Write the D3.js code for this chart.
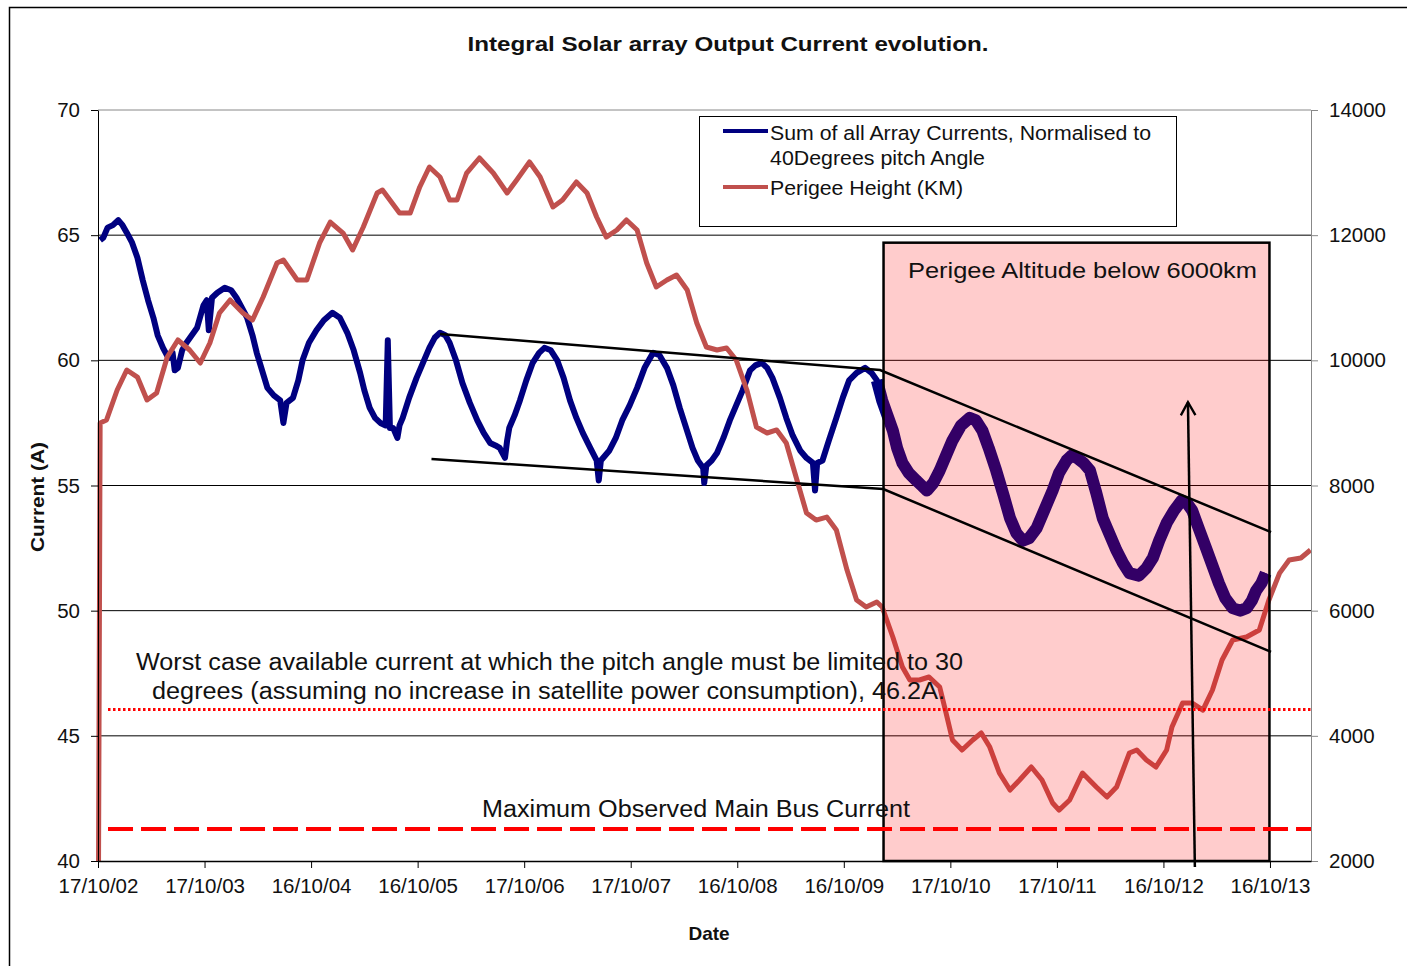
<!DOCTYPE html>
<html>
<head>
<meta charset="utf-8">
<script src="https://cdn.jsdelivr.net/npm/d3@7"></script>
<style>
  body { margin: 0; background: #fff; }
  text { font-family: "Liberation Sans", Arial, sans-serif; fill: #111; }
</style>
</head>
<body>
<svg width="1407" height="966"></svg>
<script>
// tick labels of the date axis (one per year step)
var dateLabels = ["17/10/02", "17/10/03", "16/10/04", "16/10/05", "17/10/06", "17/10/07",
  "16/10/08", "16/10/09", "17/10/10", "17/10/11", "16/10/12", "16/10/13"];
var leftTicks = [40, 45, 50, 55, 60, 65, 70];
var rightTicks = [2000, 4000, 6000, 8000, 10000, 12000, 14000];

// current series: [years since 17/10/02, amps]
var currentData = [
  [0.02, 64.8], [0.05, 64.9], [0.09, 65.3], [0.14, 65.4], [0.19, 65.6], [0.23, 65.4],
  [0.27, 65.1], [0.32, 64.7], [0.37, 64.1], [0.42, 63.2], [0.47, 62.4],
  [0.52, 61.7], [0.56, 61.0], [0.61, 60.5], [0.66, 60.1], [0.70, 60.3], [0.72, 59.6],
  [0.75, 59.7], [0.79, 60.4], [0.83, 60.7],
  [0.88, 61.0], [0.93, 61.3], [0.99, 62.2], [1.02, 62.4], [1.04, 61.2], [1.07, 62.5], [1.12, 62.7],
  [1.19, 62.9], [1.25, 62.8], [1.30, 62.5], [1.35, 62.1], [1.40, 61.7], [1.45, 61.0],
  [1.49, 60.3], [1.54, 59.6], [1.59, 58.9], [1.65, 58.6], [1.71, 58.4],
  [1.74, 57.5], [1.77, 58.3], [1.80, 58.4], [1.83, 58.5], [1.88, 59.2], [1.92, 60.0],
  [1.98, 60.7], [2.05, 61.2], [2.12, 61.6], [2.20, 61.9],
  [2.27, 61.7], [2.34, 61.1], [2.40, 60.4], [2.46, 59.5], [2.50, 58.8], [2.55, 58.1],
  [2.60, 57.7], [2.65, 57.5], [2.70, 57.4],
  [2.72, 60.8], [2.74, 57.3], [2.77, 57.3], [2.81, 56.9], [2.83, 57.4], [2.86, 57.7],
  [2.92, 58.5], [2.99, 59.3], [3.05, 59.9], [3.11, 60.5], [3.16, 60.9], [3.21, 61.1],
  [3.26, 61.0], [3.30, 60.7], [3.36, 60.0], [3.42, 59.1], [3.49, 58.3], [3.56, 57.6],
  [3.62, 57.1], [3.68, 56.7], [3.73, 56.6], [3.77, 56.5], [3.82, 56.1], [3.84, 56.8],
  [3.86, 57.3], [3.91, 57.8], [3.96, 58.4], [4.02, 59.2],
  [4.08, 59.9], [4.14, 60.3], [4.19, 60.5], [4.25, 60.4], [4.31, 60.0], [4.37, 59.3],
  [4.43, 58.4], [4.49, 57.7], [4.55, 57.1], [4.62, 56.5], [4.68, 56.0],
  [4.70, 55.2], [4.72, 56.0], [4.76, 56.2], [4.80, 56.4], [4.86, 56.9], [4.92, 57.6],
  [4.99, 58.2], [5.06, 58.9], [5.13, 59.7], [5.21, 60.3], [5.27, 60.2],
  [5.34, 59.7], [5.40, 59.0], [5.46, 58.1], [5.52, 57.3], [5.58, 56.5], [5.63, 56.0],
  [5.68, 55.7], [5.69, 55.1], [5.71, 55.8],
  [5.76, 56.0], [5.81, 56.3], [5.87, 56.9], [5.93, 57.6], [5.99, 58.2], [6.05, 58.8],
  [6.12, 59.6], [6.17, 59.8], [6.23, 59.9], [6.28, 59.7], [6.33, 59.3], [6.40, 58.5],
  [6.46, 57.7], [6.52, 57.0], [6.59, 56.4], [6.65, 56.1], [6.71, 55.9], [6.73, 54.8],
  [6.75, 55.9], [6.80, 56.0], [6.86, 56.8],
  [6.93, 57.7], [6.99, 58.5], [7.05, 59.2], [7.12, 59.5], [7.20, 59.7], [7.26, 59.5],
  [7.31, 59.2], [7.36, 58.4], [7.41, 57.8], [7.46, 57.2], [7.50, 56.5],
  [7.55, 55.9], [7.61, 55.5], [7.68, 55.2], [7.73, 55.0], [7.78, 54.8], [7.84, 55.1],
  [7.90, 55.6], [7.96, 56.2], [8.02, 56.8], [8.10, 57.4], [8.18, 57.7], [8.24, 57.6],
  [8.30, 57.2], [8.36, 56.5], [8.43, 55.6], [8.50, 54.6], [8.56, 53.7], [8.62, 53.1],
  [8.68, 52.8], [8.74, 52.9], [8.81, 53.3], [8.88, 54.0], [8.96, 54.8], [9.02, 55.5],
  [9.09, 56.0], [9.14, 56.2], [9.19, 56.1], [9.25, 55.9], [9.31, 55.6], [9.37, 54.7],
  [9.43, 53.7], [9.50, 53.0], [9.56, 52.4], [9.62, 51.9], [9.68, 51.5],
  [9.77, 51.4], [9.84, 51.7], [9.90, 52.1], [9.96, 52.8], [10.03, 53.5], [10.10, 54.0],
  [10.17, 54.4], [10.22, 54.3], [10.27, 54.0], [10.33, 53.3], [10.40, 52.5],
  [10.46, 51.8], [10.52, 51.1], [10.58, 50.5], [10.65, 50.1], [10.72, 50.0],
  [10.78, 50.1], [10.83, 50.4], [10.87, 50.8], [10.92, 51.1], [10.96, 51.5]
];

// perigee height series: [years since 17/10/02, km]
var perigeeData = [
  [0.005, 2000], [0.02, 9000], [0.08, 9046], [0.18, 9526], [0.27, 9845], [0.37, 9733],
  [0.46, 9366], [0.55, 9478], [0.65, 10053], [0.75, 10325], [0.86, 10165], [0.96, 9957],
  [1.05, 10277], [1.14, 10756], [1.24, 10964], [1.36, 10756], [1.45, 10644], [1.55, 11012],
  [1.68, 11555], [1.74, 11603], [1.87, 11284], [1.96, 11284], [2.08, 11875], [2.18, 12210],
  [2.30, 12034], [2.39, 11763], [2.49, 12130], [2.62, 12674], [2.67, 12722], [2.83, 12354],
  [2.93, 12354], [3.02, 12770], [3.11, 13089], [3.21, 12930], [3.30, 12562], [3.37, 12562],
  [3.46, 12993], [3.58, 13233], [3.71, 12993], [3.84, 12674], [3.93, 12881], [4.05, 13169],
  [4.15, 12930], [4.27, 12450], [4.36, 12562], [4.49, 12850], [4.59, 12674], [4.68, 12290],
  [4.77, 11970], [4.87, 12082], [4.96, 12242], [5.06, 12082], [5.15, 11555], [5.24, 11172],
  [5.34, 11284], [5.43, 11363], [5.53, 11124], [5.62, 10596], [5.71, 10213], [5.81, 10165],
  [5.90, 10197], [5.99, 10005], [6.09, 9526], [6.18, 8934], [6.28, 8839], [6.37, 8887],
  [6.46, 8679], [6.56, 8088], [6.65, 7560], [6.74, 7448], [6.84, 7496], [6.93, 7289],
  [7.03, 6649], [7.12, 6170], [7.21, 6058], [7.31, 6138], [7.36, 6058], [7.46, 5579],
  [7.55, 5100], [7.62, 4892], [7.71, 4892], [7.80, 4940], [7.90, 4780], [7.96, 4364],
  [8.02, 3933], [8.11, 3773], [8.21, 3933], [8.29, 4045], [8.37, 3821], [8.46, 3406],
  [8.56, 3134], [8.65, 3294], [8.76, 3502], [8.86, 3294], [8.96, 2926], [9.02, 2814],
  [9.12, 2974], [9.24, 3406], [9.37, 3182], [9.47, 3022], [9.56, 3182], [9.68, 3725],
  [9.75, 3773], [9.84, 3614], [9.93, 3502], [10.03, 3773], [10.08, 4141], [10.18, 4524],
  [10.27, 4524], [10.37, 4412], [10.46, 4732], [10.55, 5211], [10.65, 5531], [10.78, 5579],
  [10.90, 5691], [10.99, 6170], [11.09, 6600], [11.18, 6810], [11.29, 6842], [11.38, 6970]
];

// hand drawn trend lines (years, amps)
var upperTrend = [[3.21, 61.05], [7.34, 59.61], [11.01, 53.14]];
var lowerTrend = [[3.13, 56.06], [7.37, 54.86], [11.01, 48.35]];
var arrowLine = [[10.295, 39.76], [10.23, 58.33]];
var lowPerigeeZone = { t0: 7.373, t1: 10.995, top: 64.7 };
var worstCase = 46.05;
var maxBusCurrent = 41.28;

var svg = d3.select("svg");

var x = d3.scaleLinear().domain([0, 11.385]).range([98, 1311]);
var yL = d3.scaleLinear().domain([40, 70]).range([861, 110]);
var yR = d3.scaleLinear().domain([2000, 14000]).range([861, 110]);

// outer frame
svg.append("rect").attr("x", 9.5).attr("y", 7.5).attr("width", 1420).attr("height", 1000)
  .attr("fill", "none").attr("stroke", "#000").attr("stroke-width", 1.5);

// title
svg.append("text").attr("x", 728).attr("y", 51).attr("text-anchor", "middle")
  .attr("font-size", 20).attr("font-weight", "bold")
  .attr("textLength", 521).attr("lengthAdjust", "spacingAndGlyphs")
  .text("Integral Solar array Output Current evolution.");

// gridlines
svg.append("g").selectAll("line").data(leftTicks.slice(1))
  .enter().append("line")
  .attr("x1", x(0)).attr("x2", x(11.385))
  .attr("y1", function (d) { return yL(d); }).attr("y2", function (d) { return yL(d); })
  .attr("stroke", function (d) { return d == 70 ? "#888" : "#000"; })
  .attr("stroke-width", 1);

// series
var lineCur = d3.line().x(function (d) { return x(d[0]); }).y(function (d) { return yL(d[1]); });
var linePer = d3.line().x(function (d) { return x(d[0]); }).y(function (d) { return yR(d[1]); });

svg.append("path").datum(currentData).attr("d", lineCur)
  .attr("fill", "none").attr("stroke", "#000080").attr("stroke-width", 6)
  .attr("stroke-linejoin", "round");
// noisier band after the perigee dropped
svg.append("path").datum(currentData.filter(function (d) { return d[0] >= 7.3; }))
  .attr("d", lineCur)
  .attr("fill", "none").attr("stroke", "#000080").attr("stroke-width", 12)
  .attr("stroke-linejoin", "round");

svg.append("path").datum(perigeeData).attr("d", linePer)
  .attr("fill", "none").attr("stroke", "#c0504d").attr("stroke-width", 5)
  .attr("stroke-linejoin", "round");

// pink zone overlay
svg.append("rect")
  .attr("x", x(lowPerigeeZone.t0)).attr("y", yL(lowPerigeeZone.top))
  .attr("width", x(lowPerigeeZone.t1) - x(lowPerigeeZone.t0))
  .attr("height", yL(40) - yL(lowPerigeeZone.top))
  .attr("fill", "rgba(255,0,0,0.2)").attr("stroke", "#000").attr("stroke-width", 2.5);

svg.append("text").attr("x", 908).attr("y", 278).attr("font-size", 22.5)
  .attr("textLength", 349).attr("lengthAdjust", "spacingAndGlyphs")
  .text("Perigee Altitude below 6000km");

// trend lines
var trend = d3.line().x(function (d) { return x(d[0]); }).y(function (d) { return yL(d[1]); });
[upperTrend, lowerTrend].forEach(function (t) {
  svg.append("path").datum(t).attr("d", trend)
    .attr("fill", "none").attr("stroke", "#000").attr("stroke-width", 2.5);
});

// arrow
svg.append("defs").append("marker").attr("id", "head")
  .attr("viewBox", "0 0 12 12").attr("refX", 10).attr("refY", 6)
  .attr("markerWidth", 7).attr("markerHeight", 7).attr("orient", "auto")
  .attr("markerUnits", "strokeWidth")
  .append("path").attr("d", "M1,1 L10,6 L1,11")
  .attr("fill", "none").attr("stroke", "#000").attr("stroke-width", 1.6);
svg.append("path").datum(arrowLine).attr("d", trend)
  .attr("fill", "none").attr("stroke", "#000").attr("stroke-width", 2.5)
  .attr("marker-end", "url(#head)");

// reference lines
svg.append("line").attr("x1", x(0.094)).attr("x2", x(11.385))
  .attr("y1", yL(worstCase)).attr("y2", yL(worstCase))
  .attr("stroke", "#ff0000").attr("stroke-width", 3).attr("stroke-dasharray", "2.5,2.5");
svg.append("line").attr("x1", x(0.094)).attr("x2", x(11.385))
  .attr("y1", yL(maxBusCurrent)).attr("y2", yL(maxBusCurrent))
  .attr("stroke", "#ff0000").attr("stroke-width", 4).attr("stroke-dasharray", "25,8");

svg.append("text").attr("x", 136).attr("y", 670).attr("font-size", 23)
  .attr("textLength", 827).attr("lengthAdjust", "spacingAndGlyphs")
  .text("Worst case available current at which the pitch angle must be limited to 30");
svg.append("text").attr("x", 152).attr("y", 699).attr("font-size", 23)
  .attr("textLength", 793).attr("lengthAdjust", "spacingAndGlyphs")
  .text("degrees (assuming no increase in satellite power consumption), 46.2A.");
svg.append("text").attr("x", 482).attr("y", 817).attr("font-size", 23)
  .attr("textLength", 428).attr("lengthAdjust", "spacingAndGlyphs")
  .text("Maximum Observed Main Bus Current");

// axes
var axL = svg.append("g").attr("transform", "translate(" + x(0) + ",0)")
  .call(d3.axisLeft(yL).tickValues(leftTicks).tickSize(7).tickPadding(11).tickSizeOuter(0));
var axR = svg.append("g").attr("transform", "translate(" + x(11.385) + ",0)")
  .call(d3.axisRight(yR).tickValues(rightTicks).tickSize(7).tickPadding(11).tickSizeOuter(0)
    .tickFormat(d3.format("d")));
var axB = svg.append("g").attr("transform", "translate(0," + yL(40) + ")")
  .call(d3.axisBottom(x).tickValues(d3.range(dateLabels.length)).tickSize(7).tickPadding(10)
    .tickSizeOuter(0).tickFormat(function (d) { return dateLabels[d]; }));

[axL, axR, axB].forEach(function (a) {
  a.selectAll("text").attr("font-size", 20.5).attr("font-family", "Liberation Sans, Arial, sans-serif").attr("fill", "#111");
});
axR.selectAll("path, line").attr("stroke", "#888");
axB.select(".domain").attr("stroke-width", 1.5);

// axis titles
svg.append("text").attr("transform", "translate(44,497) rotate(-90)")
  .attr("text-anchor", "middle").attr("font-size", 18).attr("font-weight", "bold")
  .attr("textLength", 110).attr("lengthAdjust", "spacingAndGlyphs")
  .text("Current (A)");
svg.append("text").attr("x", 709).attr("y", 940).attr("text-anchor", "middle")
  .attr("font-size", 19).attr("font-weight", "bold").text("Date");

// legend
var leg = svg.append("g");
leg.append("rect").attr("x", 699.5).attr("y", 116.5).attr("width", 477).attr("height", 110)
  .attr("fill", "#fff").attr("stroke", "#000").attr("stroke-width", 1);
leg.append("line").attr("x1", 723).attr("x2", 768).attr("y1", 131).attr("y2", 131)
  .attr("stroke", "#000080").attr("stroke-width", 4);
leg.append("line").attr("x1", 723).attr("x2", 768).attr("y1", 187).attr("y2", 187)
  .attr("stroke", "#c0504d").attr("stroke-width", 4);
leg.append("text").attr("x", 770).attr("y", 140).attr("font-size", 20.5)
  .attr("textLength", 381).attr("lengthAdjust", "spacingAndGlyphs")
  .text("Sum of all Array Currents, Normalised to");
leg.append("text").attr("x", 770).attr("y", 165).attr("font-size", 20.5)
  .attr("textLength", 215).attr("lengthAdjust", "spacingAndGlyphs")
  .text("40Degrees pitch Angle");
leg.append("text").attr("x", 770).attr("y", 195).attr("font-size", 20.5)
  .attr("textLength", 193).attr("lengthAdjust", "spacingAndGlyphs")
  .text("Perigee Height (KM)");
</script>
</body>
</html>
